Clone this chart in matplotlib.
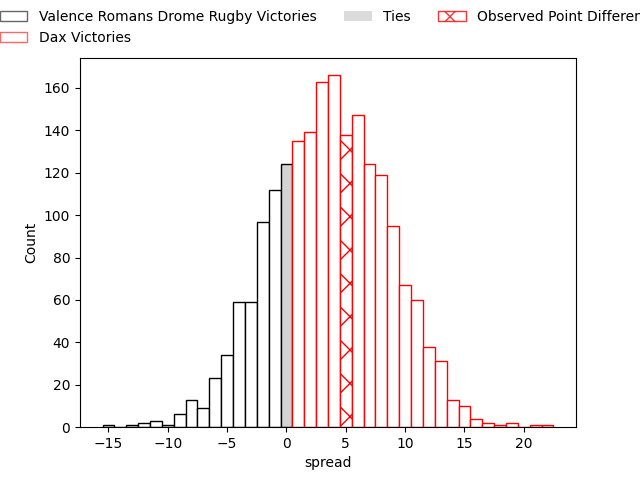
import matplotlib.pyplot as plt
from matplotlib.patches import Patch

# spread -> count
vr_spread = [-15, -14, -13, -12, -11, -10, -9, -8, -7, -6, -5, -4, -3, -2, -1]
vr_count = [1, 0, 1, 2, 3, 1, 6, 13, 9, 23, 34, 59, 59, 97, 112]
tie_spread = [0]
tie_count = [124]
dax_spread = [1, 2, 3, 4, 5, 6, 7, 8, 9, 10, 11, 12, 13, 14, 15, 16, 17, 18, 19, 20, 21, 22]
dax_count = [135, 139, 163, 166, 138, 147, 124, 119, 95, 67, 60, 38, 31, 13, 10, 4, 2, 1, 2, 0, 1, 1]
observed = 5

fig, ax = plt.subplots(figsize=(6.4, 4.8))
ax.bar(vr_spread, vr_count, width=1, color="white", edgecolor="black")
ax.bar(tie_spread, tie_count, width=1, color="lightgray", edgecolor="black")
bars = ax.bar(dax_spread, dax_count, width=1, color="white", edgecolor="red")
for b, s in zip(bars, dax_spread):
    if s == observed:
        b.set_hatch("x")

ax.set_xlabel("spread")
ax.set_ylabel("Count")

handles = [
    Patch(facecolor="white", edgecolor="black", alpha=0.6, label="Valence Romans Drome Rugby Victories"),
    Patch(facecolor="white", edgecolor="red", alpha=0.6, label="Dax Victories"),
    Patch(facecolor="lightgray", edgecolor="none", alpha=0.8, label="Ties"),
    Patch(facecolor="white", edgecolor="red", hatch="x", alpha=0.8, label="Observed Point Difference"),
]
fig.legend(handles=handles, loc="upper left", bbox_to_anchor=(-0.02, 1.005), ncol=3, frameon=False)

plt.savefig("out.png", dpi=100)
